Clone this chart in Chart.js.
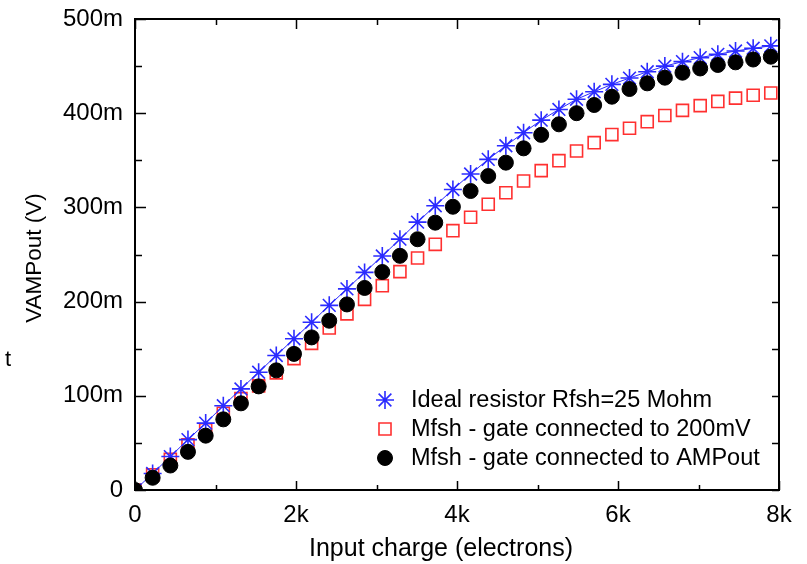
<!DOCTYPE html>
<html>
<head>
<meta charset="utf-8">
<script src="https://cdn.jsdelivr.net/npm/chart.js@4/dist/chart.umd.min.js"></script>
<style>
  html, body { margin: 0; padding: 0; background: #ffffff; }
  canvas { display: block; }
</style>
</head>
<body>
<canvas id="chart" width="807" height="564"></canvas>
<script>
// Input charge (electrons)
const charge = [0, 219, 439, 658, 878, 1097, 1316, 1536, 1755, 1975, 2194, 2413, 2633, 2852,
  3072, 3291, 3510, 3730, 3949, 4169, 4388, 4607, 4827, 5046, 5266, 5485, 5704, 5924, 6143,
  6363, 6582, 6801, 7021, 7240, 7460, 7679, 7898];

// Amplifier output, in mV
const idealResistor_mV = [0, 17.5, 35.5, 53.5, 71, 89.5, 107.3, 125, 142.8, 160.5, 178, 196,
  213.5, 231, 248.4, 266.3, 284.4, 301.8, 319, 335.5, 351, 365.5, 379.3, 392.6, 404, 414.8,
  422.8, 430.6, 437.3, 444, 450, 454.7, 459, 462.5, 466, 468.9, 471.5];
const gate200mV_mV = [0, 16, 32.5, 48, 64, 81.4, 97, 110.5, 124.3, 139.5, 155.7, 172, 187,
  202.4, 216.9, 231.8, 246.3, 260.8, 275.3, 289.5, 303.3, 315.6, 328, 339, 349.6, 359.9,
  368.7, 377.3, 384, 391, 397.5, 403, 408, 412.5, 416, 419, 421.5];
const gateAmpOut_mV = [0, 13, 26, 40.5, 57.7, 75, 92, 110, 127, 144.5, 162, 179.7, 197, 214.5,
  231.4, 248.6, 266.2, 283.8, 300.7, 317.4, 333.3, 347.5, 362.7, 377, 388.2, 400, 408.7,
  417.5, 425.7, 431.7, 437.7, 443, 447.5, 451.2, 454, 457, 460];

const seriesNames = [
  'Ideal resistor Rfsh=25 Mohm',
  'Mfsh - gate connected to 200mV',
  'Mfsh - gate connected to AMPout'
];

// Axis ranges and label steps
const xRange = [0, 8000];
const xMajorStep = 2000;
const xMinorStep = 1000;
const yRange = [0, 500];
const yMajorStep = 100;
const yMinorStep = 50;

const xTitle = 'Input charge (electrons)';
const yTitle = 'VAMPout (V)';

const FONT = '"Liberation Sans", Arial, sans-serif';
const BLUE = '#2b2bff';
const RED = '#ff3030';

const toPoints = (ys) => charge.map((x, i) => ({ x, y: ys[i] }));

const xLabel = (v) => (v % xMajorStep === 0 ? (v === 0 ? '0' : (v / 1000) + 'k') : '');
const yLabel = (v) => (v % yMajorStep === 0 ? (v === 0 ? '0' : v + 'm') : '');

// Closed frame with inward tick marks on all four sides
const framePlugin = {
  id: 'frame',
  afterDatasetsDraw(chart) {
    const { ctx, chartArea: a, scales } = chart;
    const xs = scales.x, ys = scales.y;
    ctx.save();
    ctx.strokeStyle = '#000';
    ctx.lineWidth = 1.5;
    xs.ticks.forEach(t => {
      const px = Math.round(xs.getPixelForValue(t.value)) + 0.5;
      const major = t.value % xMajorStep === 0;
      ctx.beginPath();
      ctx.moveTo(px, a.bottom); ctx.lineTo(px, a.bottom - (major ? 9 : 5));
      ctx.moveTo(px, a.top); ctx.lineTo(px, a.top + (major ? 10 : 6));
      ctx.stroke();
    });
    ys.ticks.forEach(t => {
      const py = Math.round(ys.getPixelForValue(t.value)) + 0.5;
      const major = t.value % yMajorStep === 0;
      ctx.beginPath();
      ctx.moveTo(a.left, py); ctx.lineTo(a.left + (major ? 11 : 7), py);
      ctx.moveTo(a.right, py); ctx.lineTo(a.right - 7, py);
      ctx.stroke();
    });
    ctx.lineWidth = 2;
    ctx.strokeRect(a.left, a.top, a.right - a.left, a.bottom - a.top);
    ctx.restore();
  }
};

// Axis titles, legend box (lower right of the plot) and the margin glyph
const annotatePlugin = {
  id: 'annotate',
  afterDraw(chart) {
    const { ctx } = chart;
    const ds = chart.data.datasets;
    const markerX = 385, textX = 411, firstY = 400, rowGap = 29;
    ctx.save();
    ctx.fillStyle = '#000';

    // x axis title
    ctx.font = '25px ' + FONT;
    ctx.textAlign = 'center';
    ctx.textBaseline = 'alphabetic';
    ctx.fillText(xTitle, 441, 556);

    // y axis title
    ctx.save();
    ctx.translate(41, 258);
    ctx.rotate(-Math.PI / 2);
    ctx.font = '22.5px ' + FONT;
    ctx.fillText(yTitle, 0, 0);
    ctx.restore();

    // legend
    ctx.font = '23.5px ' + FONT;
    ctx.textBaseline = 'middle';
    ctx.textAlign = 'left';
    [0, 1, 2].forEach((k, row) => {
      const d = ds[k];
      const y = firstY + row * rowGap;
      ctx.fillStyle = d.pointBackgroundColor;
      ctx.strokeStyle = d.pointBorderColor;
      ctx.lineWidth = d.pointBorderWidth;
      Chart.helpers.drawPoint(ctx, {
        pointStyle: d.pointStyle, radius: d.pointRadius, rotation: 0,
        borderWidth: d.pointBorderWidth
      }, markerX, y);
      ctx.fillStyle = '#000';
      ctx.fillText(seriesNames[k], textX, y + 1);
    });

    // stray glyph at the left margin
    ctx.font = '22px ' + FONT;
    ctx.textBaseline = 'alphabetic';
    ctx.fillText('t', 5, 366);
    ctx.restore();
  }
};

new Chart(document.getElementById('chart'), {
  type: 'line',
  data: {
    datasets: [
      {
        label: seriesNames[0],
        data: toPoints(idealResistor_mV),
        showLine: true,
        borderColor: BLUE,
        borderWidth: 1,
        pointStyle: 'star',
        pointRadius: 9,
        pointBorderWidth: 1.6,
        pointBorderColor: BLUE,
        pointBackgroundColor: BLUE,
        order: 1
      },
      {
        label: seriesNames[1],
        data: toPoints(gate200mV_mV),
        showLine: false,
        pointStyle: 'rect',
        pointRadius: 8.5,
        pointBorderWidth: 1.6,
        pointBorderColor: RED,
        pointBackgroundColor: 'rgba(0,0,0,0)',
        order: 2
      },
      {
        label: seriesNames[2],
        data: toPoints(gateAmpOut_mV),
        showLine: false,
        pointStyle: 'circle',
        pointRadius: 7.5,
        pointBorderWidth: 1,
        pointBorderColor: '#000',
        pointBackgroundColor: '#000',
        order: 0
      }
    ]
  },
  options: {
    responsive: false,
    animation: false,
    devicePixelRatio: 1,
    layout: { padding: { left: 0, top: 19, right: 28, bottom: 0 } },
    plugins: { legend: { display: false }, tooltip: { enabled: false } },
    elements: { point: { hoverRadius: 0 } },
    scales: {
      x: {
        type: 'linear',
        min: xRange[0], max: xRange[1],
        grid: { display: false, drawTicks: false },
        border: { display: false },
        ticks: {
          stepSize: xMinorStep, autoSkip: false, maxRotation: 0,
          padding: 11, color: '#000',
          font: { family: FONT, size: 24 },
          callback: xLabel
        },
        title: { display: false },
        afterFit(s) { s.height = 74; s.paddingLeft = 0; s.paddingRight = 0; }
      },
      y: {
        min: yRange[0], max: yRange[1],
        grid: { display: false, drawTicks: false },
        border: { display: false },
        ticks: {
          stepSize: yMinorStep, autoSkip: false,
          padding: 12, color: '#000',
          font: { family: FONT, size: 24 },
          callback: yLabel
        },
        title: { display: false },
        afterFit(s) { s.width = 135; s.paddingTop = 0; s.paddingBottom = 0; }
      }
    }
  },
  plugins: [framePlugin, annotatePlugin]
});
</script>
</body>
</html>
